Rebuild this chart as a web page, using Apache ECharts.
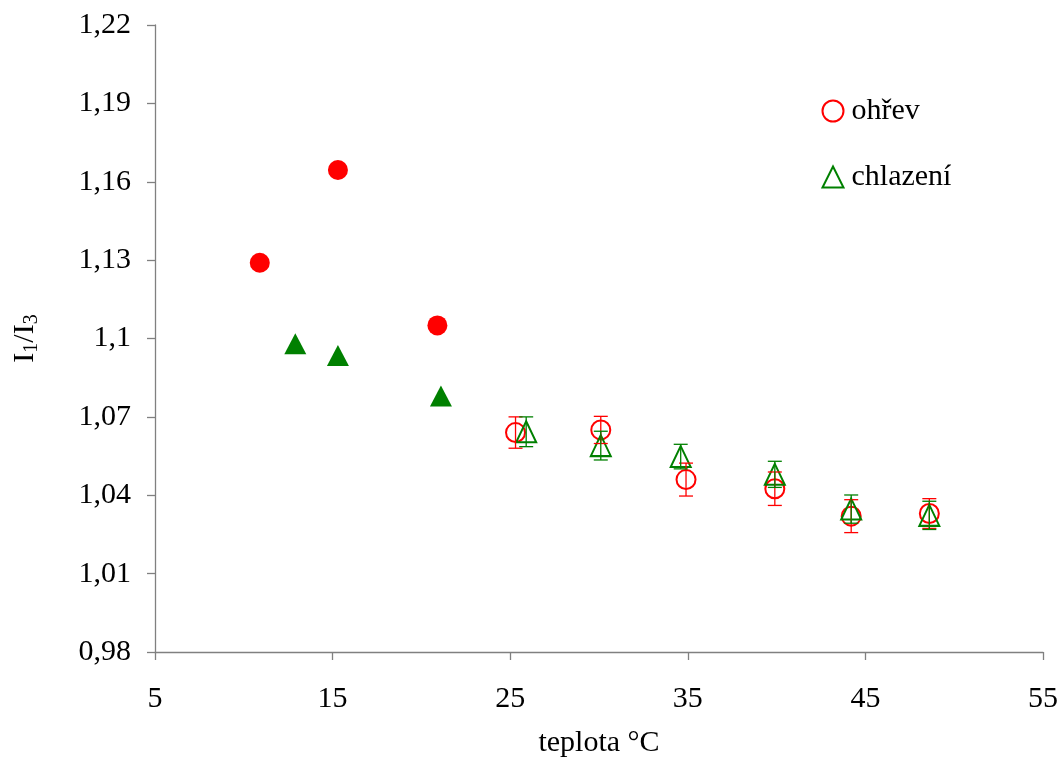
<!DOCTYPE html>
<html>
<head>
<meta charset="utf-8">
<script src="https://cdn.jsdelivr.net/npm/echarts@6/dist/echarts.min.js"></script>
<style>
  html, body { margin: 0; padding: 0; background: #fff; }
  #chart { width: 1061px; height: 760px; }
</style>
</head>
<body>
<div id="chart"></div>
<script>
// Heating (ohřev) and cooling (chlazení) measurements of I1/I3 vs temperature
const heatFilledX = [10.9, 15.3, 20.9];
const heatFilledY = [1.129, 1.1645, 1.105];
const coolFilledX = [12.9, 15.3, 21.1];
const coolFilledY = [1.098, 1.0935, 1.078];

const heatX   = [25.3, 30.1, 34.9, 39.9, 44.2, 48.6];
const heatY   = [1.064, 1.065, 1.046, 1.0425, 1.032, 1.033];
const heatErr = [0.006, 0.0052, 0.0063, 0.0064, 0.0063, 0.0057];

const coolX   = [25.9, 30.1, 34.6, 39.9, 44.2, 48.6];
const coolY   = [1.0643, 1.059, 1.0548, 1.048, 1.0347, 1.0323];
const coolErr = [0.0057, 0.0055, 0.0047, 0.005, 0.0054, 0.0054];

const xTicks = { min: 5, max: 55, step: 10 };
const yTicks = { min: 0.98, max: 1.22, step: 0.03 };

const RED = '#ff0000';
const GREEN = '#008000';
const FONT = '"Liberation Serif", "Times New Roman", serif';
const FS = 30;

const pairs = (xs, ys) => xs.map((x, i) => [x, ys[i]]);
const errRows = (xs, ys, es) => xs.map((x, i) => [x, ys[i] - es[i], ys[i] + es[i]]);

function errorBar(color) {
  return function (params, api) {
    const x = api.value(0);
    const lo = api.coord([x, api.value(1)]);
    const hi = api.coord([x, api.value(2)]);
    const cap = 7;
    const style = { stroke: color, lineWidth: 1.3 };
    return {
      type: 'group',
      children: [
        { type: 'line', shape: { x1: lo[0], y1: lo[1], x2: hi[0], y2: hi[1] }, style },
        { type: 'line', shape: { x1: lo[0] - cap, y1: lo[1], x2: lo[0] + cap, y2: lo[1] }, style },
        { type: 'line', shape: { x1: hi[0] - cap, y1: hi[1], x2: hi[0] + cap, y2: hi[1] }, style }
      ]
    };
  };
}

const chart = echarts.init(document.getElementById('chart'));
chart.setOption({
  animation: false,
  backgroundColor: '#fff',
  grid: { left: 155, right: 18, top: 25, bottom: 108, outerBoundsMode: 'none', containLabel: false },
  legend: {
    orient: 'vertical',
    left: 820,
    top: 96,
    padding: 0,
    itemWidth: 21,
    itemHeight: 21,
    itemGap: 36,
    textStyle: { fontFamily: FONT, fontSize: FS, color: '#000', padding: [0, 0, 0, 3] },
    data: [
      { name: 'ohřev', icon: 'circle', itemStyle: { color: 'none', borderColor: RED, borderWidth: 2, opacity: 1 } },
      { name: 'chlazení', icon: 'triangle', itemStyle: { color: 'none', borderColor: GREEN, borderWidth: 2, opacity: 1 } }
    ]
  },
  xAxis: {
    type: 'value',
    min: xTicks.min, max: xTicks.max, interval: xTicks.step,
    name: 'teplota °C',
    nameLocation: 'middle',
    nameGap: 76,
    nameTextStyle: { fontFamily: FONT, fontSize: FS, color: '#000' },
    axisLine: { lineStyle: { color: '#808080', width: 1.3 } },
    axisTick: { show: true, inside: false, length: 8, lineStyle: { color: '#808080', width: 1.3 } },
    axisLabel: { fontFamily: FONT, fontSize: FS, color: '#000', margin: 32 },
    splitLine: { show: false }
  },
  yAxis: {
    type: 'value',
    min: yTicks.min, max: yTicks.max, interval: yTicks.step,
    name: '{a|I}{s|1}{a|/I}{s|3}',
    nameLocation: 'middle',
    nameRotate: 90,
    nameGap: 113,
    nameTextStyle: {
      fontFamily: FONT, color: '#000',
      rich: {
        a: { fontFamily: FONT, fontSize: FS, lineHeight: 34, color: '#000', verticalAlign: 'middle' },
        s: { fontFamily: FONT, fontSize: 20, lineHeight: 34, color: '#000', verticalAlign: 'bottom', padding: [4, 0, 0, 0] }
      }
    },
    axisLine: { show: true, lineStyle: { color: '#808080', width: 1.3 } },
    axisTick: { show: true, inside: false, length: 8, lineStyle: { color: '#808080', width: 1.3 } },
    axisLabel: {
      fontFamily: FONT, fontSize: FS, color: '#000', margin: 24,
      formatter: v => String(parseFloat(v.toFixed(2))).replace('.', ',')
    },
    splitLine: { show: false }
  },
  series: [
    {
      name: 'ohřev-filled', type: 'scatter', symbol: 'circle', symbolSize: 20,
      itemStyle: { color: RED, opacity: 1 }, data: pairs(heatFilledX, heatFilledY), z: 3
    },
    {
      name: 'chlazení-filled', type: 'scatter', symbol: 'triangle', symbolSize: [22, 21],
      itemStyle: { color: GREEN, opacity: 1 }, data: pairs(coolFilledX, coolFilledY), z: 3
    },
    {
      name: 'ohřev', type: 'scatter', symbol: 'circle', symbolSize: 19,
      itemStyle: { color: 'none', borderColor: RED, borderWidth: 2, opacity: 1 },
      data: pairs(heatX, heatY), z: 3
    },
    {
      name: 'chlazení', type: 'scatter', symbol: 'triangle', symbolSize: [20, 21],
      itemStyle: { color: 'none', borderColor: GREEN, borderWidth: 2, opacity: 1 },
      data: pairs(coolX, coolY), z: 4
    },
    {
      name: 'ohřev-err', type: 'custom', renderItem: errorBar(RED),
      encode: { x: 0, y: [1, 2] }, data: errRows(heatX, heatY, heatErr), z: 5
    },
    {
      name: 'chlazení-err', type: 'custom', renderItem: errorBar(GREEN),
      encode: { x: 0, y: [1, 2] }, data: errRows(coolX, coolY, coolErr), z: 6
    }
  ]
});
</script>
</body>
</html>
